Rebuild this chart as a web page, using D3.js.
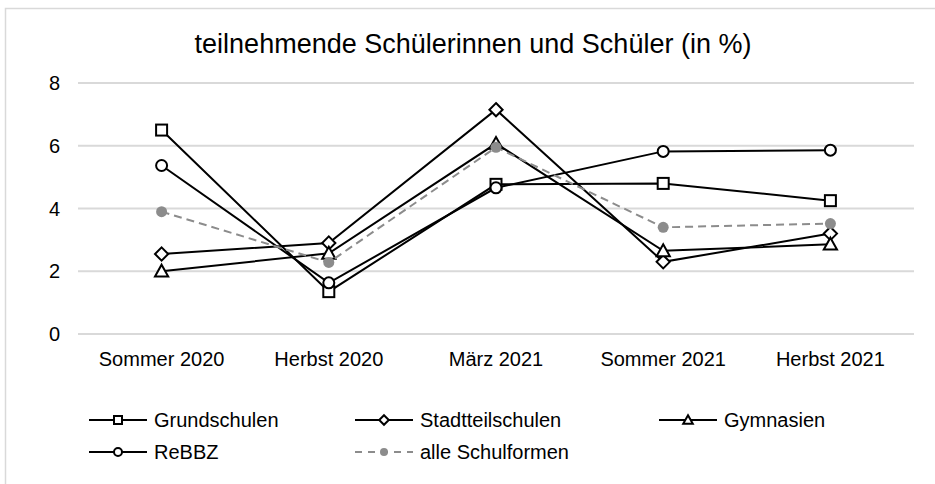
<!DOCTYPE html>
<html>
<head>
<meta charset="utf-8">
<title>teilnehmende Schülerinnen und Schüler</title>
<script src="https://cdn.jsdelivr.net/npm/d3@7"></script>
<style>
  body { margin: 0; background: #fff; }
  text { font-family: "Liberation Sans", Arial, sans-serif; fill: #000; }
</style>
</head>
<body>
<script>
// Daten
var categories = ['Sommer 2020', 'Herbst 2020', 'März 2021', 'Sommer 2021', 'Herbst 2021'];
var grundschulen = [6.5, 1.35, 4.77, 4.8, 4.25];
var stadtteilschulen = [2.55, 2.9, 7.15, 2.3, 3.2];
var gymnasien = [2.0, 2.57, 6.07, 2.65, 2.86];
var rebbz = [5.37, 1.63, 4.66, 5.82, 5.86];
var alleSchulformen = [3.9, 2.28, 5.95, 3.4, 3.52];
var yTicks = [0, 2, 4, 6, 8];

var series = [
  { name: 'Grundschulen', values: grundschulen, marker: 'square' },
  { name: 'Stadtteilschulen', values: stadtteilschulen, marker: 'diamond' },
  { name: 'Gymnasien', values: gymnasien, marker: 'triangle' },
  { name: 'ReBBZ', values: rebbz, marker: 'circle' },
  { name: 'alle Schulformen', values: alleSchulformen, marker: 'dot' }
];

var width = 935, height = 484;
var svg = d3.select('body').append('svg')
  .attr('width', width)
  .attr('height', height);

// Rahmen
svg.append('rect')
  .attr('x', 5.5).attr('y', 8.5)
  .attr('width', 1000).attr('height', 1000)
  .attr('fill', 'none')
  .attr('stroke', '#d9d9d9')
  .attr('stroke-width', 1.5);

svg.append('text')
  .attr('x', 473).attr('y', 53)
  .attr('text-anchor', 'middle')
  .style('font-size', '27px')
  .text('teilnehmende Schülerinnen und Schüler (in %)');

var x = d3.scalePoint().domain(categories).range([78, 914]).padding(0.5);
var y = d3.scaleLinear().domain([0, 8]).range([334, 83]);

// Gitter
svg.append('g').selectAll('line')
  .data(yTicks).enter().append('line')
  .attr('x1', 78).attr('x2', 914)
  .attr('y1', function(d) { return y(d); })
  .attr('y2', function(d) { return y(d); })
  .attr('stroke', '#d9d9d9')
  .attr('stroke-width', 2);

svg.append('g').selectAll('text')
  .data(yTicks).enter().append('text')
  .attr('x', 60)
  .attr('y', function(d) { return y(d) + 7; })
  .attr('text-anchor', 'end')
  .style('font-size', '20px')
  .text(function(d) { return d; });

svg.append('g').selectAll('text')
  .data(categories).enter().append('text')
  .attr('x', function(d) { return x(d); })
  .attr('y', 366)
  .attr('text-anchor', 'middle')
  .style('font-size', '20px')
  .text(function(d) { return d; });

function drawMarker(g, type, cx, cy, s) {
  if (type === 'square') {
    g.append('rect')
      .attr('x', cx - s / 2).attr('y', cy - s / 2)
      .attr('width', s).attr('height', s)
      .attr('fill', '#fff').attr('stroke', '#000').attr('stroke-width', 2);
  } else if (type === 'diamond') {
    var h = s * 0.6;
    g.append('path')
      .attr('d', 'M' + cx + ',' + (cy - h) + 'L' + (cx + h) + ',' + cy + 'L' + cx + ',' + (cy + h) + 'L' + (cx - h) + ',' + cy + 'Z')
      .attr('fill', '#fff').attr('stroke', '#000').attr('stroke-width', 2);
  } else if (type === 'triangle') {
    var t = s * 0.6;
    g.append('path')
      .attr('d', 'M' + cx + ',' + (cy - t) + 'L' + (cx + t) + ',' + (cy + t * 0.8) + 'L' + (cx - t) + ',' + (cy + t * 0.8) + 'Z')
      .attr('fill', '#fff').attr('stroke', '#000').attr('stroke-width', 2);
  } else if (type === 'circle') {
    g.append('circle')
      .attr('cx', cx).attr('cy', cy).attr('r', s / 2)
      .attr('fill', '#fff').attr('stroke', '#000').attr('stroke-width', 2);
  } else {
    g.append('circle')
      .attr('cx', cx).attr('cy', cy).attr('r', s / 2)
      .attr('fill', '#8c8c8c');
  }
}

var line = d3.line()
  .x(function(d, i) { return x(categories[i]); })
  .y(function(d) { return y(d); });

series.forEach(function(s) {
  var g = svg.append('g');
  var grey = s.marker === 'dot';
  g.append('path')
    .attr('d', line(s.values))
    .attr('fill', 'none')
    .attr('stroke', grey ? '#8c8c8c' : '#000')
    .attr('stroke-width', 2)
    .attr('stroke-dasharray', grey ? '8,5' : null);
  s.values.forEach(function(v, i) {
    drawMarker(g, s.marker, x(categories[i]), y(v), 11);
  });
});

// Legende
var legendPos = [[89, 420], [355, 420], [659, 420], [89, 452], [355, 452]];
series.forEach(function(s, i) {
  var lx = legendPos[i][0], ly = legendPos[i][1];
  var g = svg.append('g');
  var grey = s.marker === 'dot';
  g.append('line')
    .attr('x1', lx).attr('x2', lx + 58)
    .attr('y1', ly).attr('y2', ly)
    .attr('stroke', grey ? '#8c8c8c' : '#000')
    .attr('stroke-width', 2)
    .attr('stroke-dasharray', grey ? '7,6' : null);
  drawMarker(g, s.marker, lx + 29, ly, 8);
  g.append('text')
    .attr('x', lx + 65).attr('y', ly + 7)
    .style('font-size', '20px')
    .text(s.name);
});
</script>
</body>
</html>
